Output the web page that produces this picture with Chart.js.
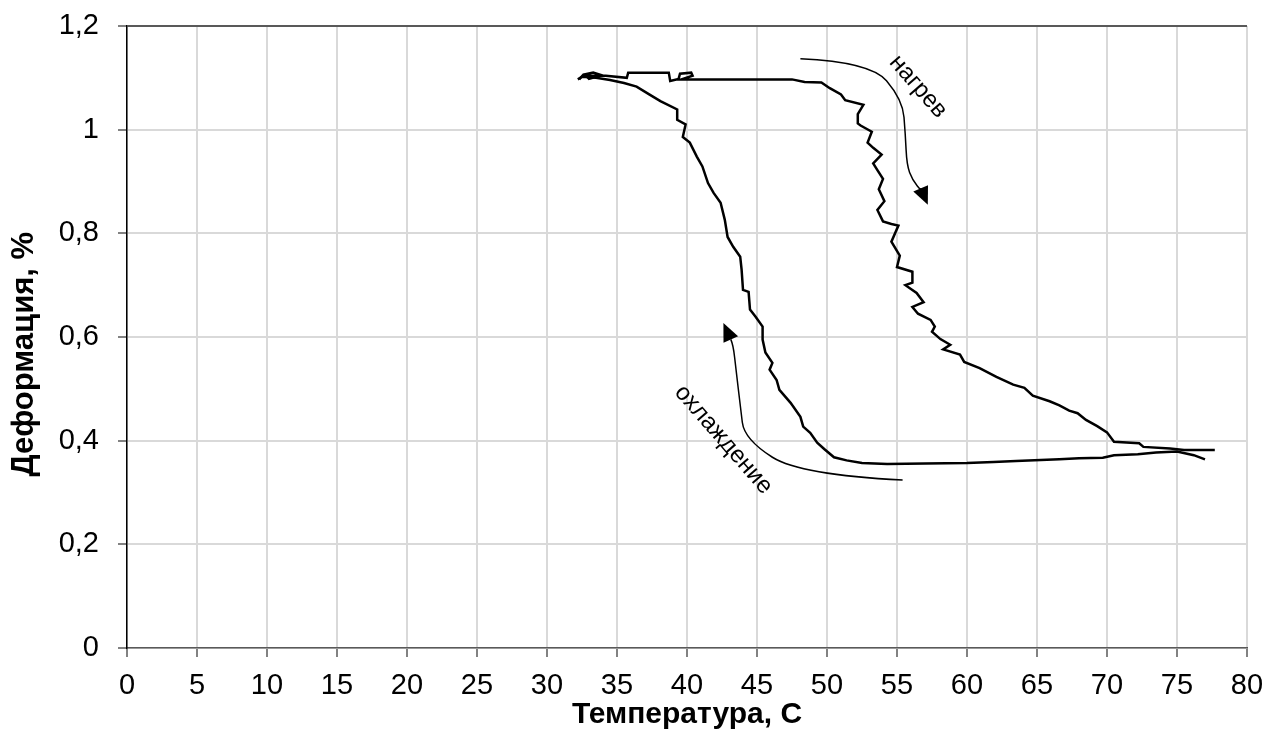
<!DOCTYPE html>
<html>
<head>
<meta charset="utf-8">
<script src="https://cdn.jsdelivr.net/npm/chart.js@4.4.0/dist/chart.umd.min.js"></script>
<style>
  body { margin: 0; background: #fff; }
  canvas { display: block; }
</style>
</head>
<body>
<canvas id="myChart" width="1269" height="754"></canvas>
<script>
// нагрев: температура (C) и деформация (%)
var heatT = [32.3, 32.6, 33.3, 33.9, 33.0, 32.8, 34.2, 35.7, 35.8, 38.7, 38.8, 39.4, 39.5, 40.3, 40.4, 39.6,
    47.5, 48.4, 49.6, 50.2, 51.0, 51.3, 52.6, 52.2, 52.2, 52.4, 53.2, 52.9, 53.3, 53.9, 53.3, 53.6, 54.0,
    53.7, 54.1, 53.6, 54.0, 54.6, 55.1, 54.6, 55.2, 55.0, 56.1, 56.1, 55.6, 56.4, 56.9, 56.1, 56.5, 57.4,
    57.7, 57.5, 58.1, 58.8, 58.3, 59.5, 59.8, 60.9, 62.1, 63.3, 64.1, 64.7, 65.9, 66.6, 67.3, 67.9, 68.5,
    69.3, 70.0, 70.5, 72.3, 72.6, 74.5, 75.5, 77.7];
var heatD = [1.097, 1.106, 1.110, 1.105, 1.098, 1.104, 1.104, 1.100, 1.110, 1.110, 1.094, 1.098, 1.108, 1.110, 1.104, 1.097,
    1.097, 1.092, 1.091, 1.080, 1.068, 1.057, 1.048, 1.030, 1.012, 1.008, 0.996, 0.975, 0.965, 0.952, 0.935, 0.922, 0.905,
    0.885, 0.862, 0.845, 0.823, 0.818, 0.815, 0.784, 0.757, 0.735, 0.726, 0.705, 0.700, 0.685, 0.667, 0.658, 0.645, 0.633,
    0.620, 0.610, 0.596, 0.585, 0.576, 0.566, 0.552, 0.540, 0.523, 0.508, 0.502, 0.487, 0.476, 0.468, 0.458, 0.453, 0.440,
    0.428, 0.416, 0.398, 0.395, 0.388, 0.385, 0.382, 0.382];

// охлаждение
var coolT = [77.0, 76.2, 75.0, 73.5, 72.2, 70.5, 69.7, 68.0, 66.6, 63.5, 61.9, 60.0, 57.0, 54.3, 52.5, 51.4, 50.5,
    49.8, 49.3, 48.8, 48.3, 48.1, 47.4, 46.6, 46.4, 45.9, 46.1, 45.6, 45.4, 45.4, 44.9, 44.5, 44.4, 44.0, 43.9,
    43.8, 43.3, 42.9, 42.7, 42.4, 41.9, 41.5, 41.1, 40.7, 40.2, 39.7, 39.9, 39.3, 39.3, 38.1, 37.3, 36.4, 35.5,
    34.5, 33.5, 32.5, 32.2];
var coolD = [0.364, 0.372, 0.379, 0.377, 0.374, 0.372, 0.367, 0.366, 0.364, 0.361, 0.359, 0.357, 0.356, 0.355, 0.357, 0.362, 0.368,
    0.384, 0.396, 0.415, 0.427, 0.446, 0.473, 0.498, 0.517, 0.537, 0.550, 0.570, 0.595, 0.620, 0.639, 0.653, 0.687, 0.691, 0.730,
    0.755, 0.774, 0.793, 0.826, 0.859, 0.878, 0.897, 0.929, 0.948, 0.975, 0.986, 1.010, 1.019, 1.039, 1.055, 1.068, 1.083, 1.090,
    1.096, 1.100, 1.102, 1.097];

// подписи стрелок (в координатах осей)
var heatArrowT = [48.1, 53.1, 55.4, 55.6, 55.7, 56.1, 56.8, 57.2];
var heatArrowD = [1.137, 1.131, 1.058, 0.990, 0.932, 0.903, 0.880, 0.855];
var coolArrowT = [55.4, 48.1, 44.1, 43.8, 43.5, 43.3, 42.6];
var coolArrowD = [0.324, 0.334, 0.402, 0.469, 0.537, 0.585, 0.627];

function toPoints(xs, ys) {
    return xs.map(function (x, i) { return { x: x, y: ys[i] }; });
}

var fontFamily = "'Liberation Sans', Arial, sans-serif";

var arrowsPlugin = {
    id: 'arrows',
    afterDatasetsDraw: function (chart) {
        var ctx = chart.ctx;
        var xs = chart.scales.x, ys = chart.scales.y;
        function px(t) { return xs.getPixelForValue(t); }
        function py(d) { return ys.getPixelForValue(d); }

        function drawArrow(T, D) {
            var p = T.map(function (t, i) { return [px(t), py(D[i])]; });
            ctx.save();
            ctx.strokeStyle = '#000';
            ctx.lineWidth = 1.5;
            ctx.beginPath();
            ctx.moveTo(p[0][0], p[0][1]);
            // plavnaya krivaya cherez tochki
            for (var i = 1; i < p.length - 2; i++) {
                var mx = (p[i][0] + p[i + 1][0]) / 2, my = (p[i][1] + p[i + 1][1]) / 2;
                ctx.quadraticCurveTo(p[i][0], p[i][1], mx, my);
            }
            var a = p[p.length - 2], tip = p[p.length - 1];
            var ang = Math.atan2(tip[1] - a[1], tip[0] - a[0]);
            var len = 18, w = 8;
            var bx = tip[0] - len * Math.cos(ang), by = tip[1] - len * Math.sin(ang);
            ctx.quadraticCurveTo(a[0], a[1], bx, by);
            ctx.stroke();
            ctx.fillStyle = '#000';
            ctx.beginPath();
            ctx.moveTo(tip[0], tip[1]);
            ctx.lineTo(bx + w * Math.sin(ang), by - w * Math.cos(ang));
            ctx.lineTo(bx - w * Math.sin(ang), by + w * Math.cos(ang));
            ctx.closePath();
            ctx.fill();
            ctx.restore();
        }

        function drawLabel(text, t, d, deg) {
            ctx.save();
            ctx.translate(px(t), py(d));
            ctx.rotate(deg * Math.PI / 180);
            ctx.font = '24px ' + fontFamily;
            ctx.fillStyle = '#000';
            ctx.textAlign = 'center';
            ctx.textBaseline = 'middle';
            ctx.fillText(text, 0, 0);
            ctx.restore();
        }

        drawArrow(heatArrowT, heatArrowD);
        drawArrow(coolArrowT, coolArrowD);
        drawLabel('нагрев', 56.5, 1.083, 49);
        drawLabel('охлаждение', 42.6, 0.402, 49);
    }
};

var myChart = new Chart(document.getElementById('myChart'), {
    type: 'scatter',
    data: {
        datasets: [{
            label: 'нагрев',
            data: toPoints(heatT, heatD),
            showLine: true,
            borderColor: '#000',
            borderWidth: 2.5,
            pointRadius: 0,
            tension: 0
        }, {
            label: 'охлаждение',
            data: toPoints(coolT, coolD),
            showLine: true,
            borderColor: '#000',
            borderWidth: 2.5,
            pointRadius: 0,
            tension: 0
        }]
    },
    options: {
        responsive: false,
        animation: false,
        layout: {
            padding: { left: 0, right: 22, top: 26, bottom: 0 }
        },
        plugins: {
            legend: { display: false },
            tooltip: { enabled: false }
        },
        scales: {
            x: {
                type: 'linear',
                min: 0,
                max: 80,
                ticks: {
                    stepSize: 5,
                    color: '#000',
                    padding: 12,
                    font: { family: fontFamily, size: 29 }
                },
                grid: {
                    color: '#d9d9d9',
                    lineWidth: 2,
                    tickLength: 9,
                    tickColor: '#595959',
                    tickWidth: 1.5
                },
                border: { color: '#595959', width: 1.5 },
                title: {
                    display: true,
                    text: 'Температура, C',
                    color: '#000',
                    font: { family: fontFamily, size: 30, weight: 'bold' },
                    padding: { top: 0, bottom: 21 }
                },
                afterFit: function (scale) {
                    scale.height = 106;
                    scale.paddingLeft = 0;
                    scale.paddingRight = 0;
                }
            },
            y: {
                min: 0,
                max: 1.2,
                ticks: {
                    stepSize: 0.2,
                    color: '#000',
                    padding: 19,
                    font: { family: fontFamily, size: 29 },
                    callback: function (v) {
                        return String(Math.round(v * 10) / 10).replace('.', ',');
                    }
                },
                grid: {
                    color: function (c) {
                        return c.tick && Math.abs(c.tick.value - 1.2) < 1e-6 ? '#595959' : '#d9d9d9';
                    },
                    lineWidth: 2,
                    tickLength: 9,
                    tickColor: '#595959',
                    tickWidth: 1.5
                },
                border: { color: '#000', width: 1.5 },
                title: {
                    display: true,
                    // nbsp v kontse - sdvig podpisi vniz, kak v Excel
                    text: 'Деформация, %\u00a0\u00a0\u00a0\u00a0',
                    color: '#000',
                    font: { family: fontFamily, size: 31, weight: 'bold' },
                    padding: { top: 6, bottom: 0 }
                },
                afterFit: function (scale) {
                    scale.width = 127;
                    scale.paddingTop = 0;
                    scale.paddingBottom = 0;
                }
            }
        }
    },
    plugins: [arrowsPlugin]
});
</script>
</body>
</html>
